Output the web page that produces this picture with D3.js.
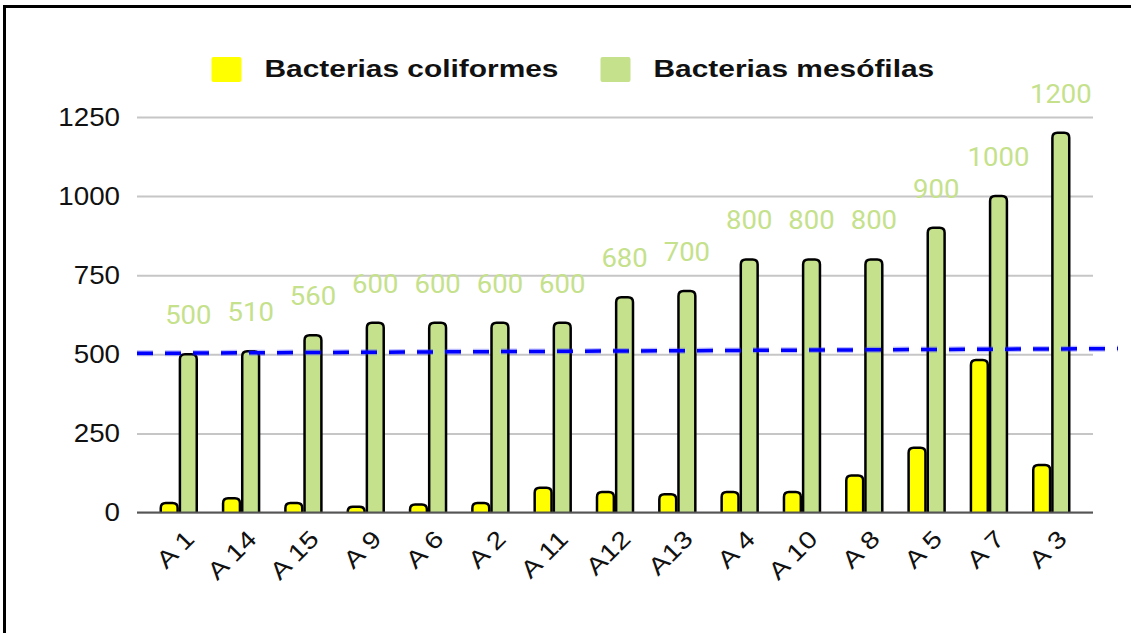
<!DOCTYPE html>
<html>
<head>
<meta charset="utf-8">
<script src="https://cdn.jsdelivr.net/npm/d3@7"></script>
<style>
	body { margin: 0; background: #fff; }
</style>
</head>
<body>
<div id="chart"></div>
<script>
var categories = ['A 1', 'A 14', 'A 15', 'A 9', 'A 6', 'A 2', 'A 11', 'A12', 'A13', 'A 4', 'A 10', 'A 8', 'A 5', 'A 7', 'A 3'];
var coliformes = [30, 45, 30, 18, 25, 30, 78, 65, 58, 65, 65, 117, 205, 482, 150];
var mesofilas = [500, 510, 560, 600, 600, 600, 600, 680, 700, 800, 800, 800, 900, 1000, 1200];
var seriesNames = ['Bacterias coliformes', 'Bacterias mesófilas'];
var seriesColors = ['#ffff00', '#c5e18b'];
var yTicks = [0, 250, 500, 750, 1000, 1250];
// dashed trend line: value at left edge of plot and at its right end
var trendValues = [503, 518];

function createChart(elementName) {
	var W = 1131, H = 633;
	var margins = {top: 117, right: 38, bottom: 120.5, left: 137};
	var width = W - margins.left - margins.right;
	var height = H - margins.top - margins.bottom;

	var svg = d3.select(elementName).append('svg')
		.attr('width', W)
		.attr('height', H);

	svg.append('rect')
		.attr('x', 4.5).attr('y', 6.5)
		.attr('width', 1300).attr('height', 800)
		.style('fill', '#fff')
		.style('stroke', '#000')
		.style('stroke-width', 3);

	var xscale = d3.scaleBand().domain(categories).range([0, width]).paddingInner(0).paddingOuter(0.17);
	var sub = d3.scaleBand().domain(seriesNames).range([-18, 18]).paddingInner(0.12);
	var yscale = d3.scaleLinear().domain([0, 1250]).range([height, 0]);

	var g = svg.append('g').attr('transform', 'translate(' + margins.left + ',' + margins.top + ')');

	// grid + y labels
	var yaxis = d3.axisLeft(yscale).tickValues(yTicks).tickFormat(d3.format('d')).tickSize(-width).tickPadding(17);
	var yguide = g.append('g').call(yaxis);
	yguide.select('.domain').remove();
	yguide.selectAll('line').style('stroke', '#c6c6c6').style('stroke-width', 2);
	yguide.selectAll('.tick').each(function() {
		var t = d3.select(this).select('text');
		t.attr('transform', 'translate(-17,0) scale(1.11,1)').attr('x', 0);
	});
	yguide.selectAll('text')
		.style('font-family', '"Liberation Sans", Arial, sans-serif')
		.style('font-size', '25px')
		.style('fill', '#111');

	function barPath(x0, w, top, bottom) {
		var r = Math.min(5, (bottom - top), w / 2);
		return 'M' + x0 + ',' + bottom +
			'L' + x0 + ',' + (top + r) +
			'Q' + x0 + ',' + top + ' ' + (x0 + r) + ',' + top +
			'L' + (x0 + w - r) + ',' + top +
			'Q' + (x0 + w) + ',' + top + ' ' + (x0 + w) + ',' + (top + r) +
			'L' + (x0 + w) + ',' + bottom;
	}

	var series = [coliformes, mesofilas];
	series.forEach(function(values, s) {
		g.append('g').selectAll('path').data(values)
			.enter().append('path')
			.attr('d', function(d, i) {
				var cx = xscale(categories[i]) + xscale.bandwidth() / 2;
				return barPath(cx + sub(seriesNames[s]), sub.bandwidth(), yscale(d), yscale(0));
			})
			.style('fill', seriesColors[s])
			.style('stroke', '#000')
			.style('stroke-width', 2.5)
			.style('stroke-linejoin', 'round');
	});

	// value labels over mesofilas
	g.append('g').selectAll('text').data(mesofilas)
		.enter().append('text')
		.attr('transform', function(d, i) {
			var x = xscale(categories[i]) + xscale.bandwidth() / 2 + sub(seriesNames[1]) + sub.bandwidth() / 2;
			return 'translate(' + x + ',' + (yscale(d) - 30) + ') scale(1.1,1)';
		})
		.attr('text-anchor', 'middle')
		.style('font-family', 'Roboto, sans-serif')
		.style('font-size', '25px')
		.style('fill', '#c5e18b')
		.text(function(d) { return d; });

	// baseline
	g.append('line')
		.attr('x1', 0).attr('x2', width)
		.attr('y1', yscale(0)).attr('y2', yscale(0))
		.style('stroke', '#555')
		.style('stroke-width', 2);

	// x labels
	var xaxis = d3.axisBottom(xscale).tickSize(0);
	var xguide = g.append('g').attr('transform', 'translate(0,' + height + ')').call(xaxis);
	xguide.select('.domain').remove();
	xguide.selectAll('text')
		.attr('x', 0).attr('y', 0).attr('dy', 0)
		.attr('text-anchor', 'end')
		.attr('transform', 'translate(17,28) rotate(-45) scale(1.2,1)')
		.style('font-family', '"Liberation Sans", Arial, sans-serif')
		.style('font-size', '24px')
		.style('fill', '#111');

	// dashed trend line
	var trend = [[0, trendValues[0]], [width + 25, trendValues[1]]];
	var line = d3.line().x(function(d) { return d[0]; }).y(function(d) { return yscale(d[1]); });
	g.append('path').datum(trend)
		.attr('d', line)
		.style('fill', 'none')
		.style('stroke', 'rgba(60,60,255,0.35)')
		.style('stroke-width', 6)
		.style('stroke-dasharray', '16,12');
	g.append('path').datum(trend)
		.attr('d', line)
		.style('fill', 'none')
		.style('stroke', '#0000ff')
		.style('stroke-width', 3.5)
		.style('stroke-dasharray', '16,12');

	// legend
	var legend = svg.append('g');
	var legendX = [211.5, 600.5];
	seriesNames.forEach(function(name, i) {
		legend.append('rect')
			.attr('x', legendX[i]).attr('y', 57)
			.attr('width', 30).attr('height', 25)
			.attr('rx', 2)
			.style('fill', seriesColors[i]);
		legend.append('text')
			.attr('transform', 'translate(' + (legendX[i] + 53) + ',77) scale(1.3,1)')
			.style('font-family', '"Liberation Sans", Arial, sans-serif')
			.style('font-weight', 'bold')
			.style('font-size', '23px')
			.style('fill', '#111')
			.text(name);
	});
}

createChart('#chart');
</script>
</body>
</html>
